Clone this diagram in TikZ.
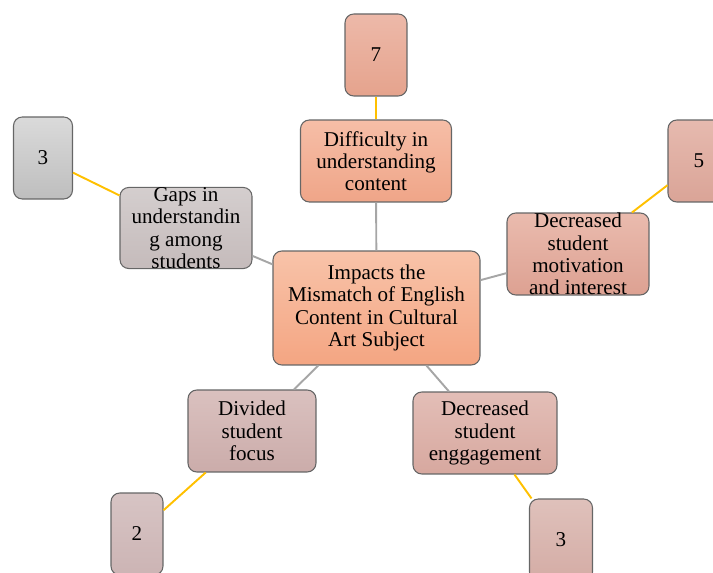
\documentclass[tikz,border=0pt]{standalone}
\usepackage{fontspec}
\setmainfont{Liberation Serif}

\definecolor{linkgrey}{HTML}{A6A6A6}
\definecolor{scoreyellow}{HTML}{FFC000}

\begin{document}
\begin{tikzpicture}[x=0.02cm, y=-0.02cm,
box/.style = {rectangle, rounded corners=5pt, draw=black!60, line width=0.6pt, align=center, inner sep=0pt, font=\fontsize{12}{12.7}\selectfont},
count/.style = {box, minimum height=1.64cm},
link/.style = {line width=1.1pt, linkgrey},
score/.style = {line width=1.1pt, scoreyellow},
]

\useasboundingbox (0,0) rectangle (713,573);
\clip (0,0) rectangle (713,573);

% Draw central topic
\node[box, minimum width=4.14cm, minimum height=2.28cm, top color={rgb,255:red,248;green,195;blue,169}, bottom color={rgb,255:red,244;green,165;blue,130}] (impact) at (376.5,308) {Impacts the\\ Mismatch of English\\ Content in Cultural\\ Art Subject};

% Draw impacts
\node[box, minimum width=3.02cm, minimum height=1.64cm, top color={rgb,255:red,246;green,190;blue,167}, bottom color={rgb,255:red,239;green,165;blue,136}] (difficulty) at (376,161) {Difficulty in\\ understanding\\ content};
\node[box, minimum width=2.64cm, minimum height=1.62cm, top color={rgb,255:red,212;green,206;blue,206}, bottom color={rgb,255:red,197;green,187;blue,187}] (gaps) at (186,228) {Gaps in\\ understandin\\ g among\\ students};
\node[box, minimum width=2.84cm, minimum height=1.64cm, top color={rgb,255:red,234;green,187;blue,174}, bottom color={rgb,255:red,221;green,161;blue,146}] (motivation) at (578,254) {Decreased\\ student\\ motivation\\ and interest};
\node[box, minimum width=2.56cm, minimum height=1.64cm, top color={rgb,255:red,218;green,193;blue,191}, bottom color={rgb,255:red,203;green,172;blue,170}] (focus) at (252,431) {Divided\\ student\\ focus};
\node[box, minimum width=2.88cm, minimum height=1.64cm, top color={rgb,255:red,227;green,190;blue,183}, bottom color={rgb,255:red,215;green,168;blue,159}] (engagement) at (485,433) {Decreased\\ student\\ enggagement};

% Draw counts
\node[count, minimum width=1.24cm, top color={rgb,255:red,237;green,185;blue,169}, bottom color={rgb,255:red,229;green,163;blue,141}] (n7) at (376,55) {7};
\node[count, minimum width=1.18cm, top color={rgb,255:red,218;green,218;blue,218}, bottom color={rgb,255:red,190;green,190;blue,190}] (n3a) at (43,158) {3};
\node[count, minimum width=1.24cm, top color={rgb,255:red,230;green,186;blue,175}, bottom color={rgb,255:red,218;green,164;blue,151}] (n5) at (699,161) {5};
\node[count, minimum width=1.04cm, top color={rgb,255:red,215;green,196;blue,196}, bottom color={rgb,255:red,204;green,180;blue,180}] (n2) at (137,534) {2};
\node[count, minimum width=1.26cm, top color={rgb,255:red,223;green,193;blue,187}, bottom color={rgb,255:red,212;green,172;blue,165}] (n3b) at (561,540) {3};

% Draw links
\draw[link] (impact) -- (difficulty);
\draw[link] (impact) -- (gaps);
\draw[link] (impact) -- (motivation);
\draw[link] (impact) -- (focus);
\draw[link] (impact) -- (engagement);

% Draw scores
\draw[score] (difficulty) -- (n7);
\draw[score] (gaps) -- (n3a);
\draw[score] (motivation) -- (n5);
\draw[score] (focus) -- (n2);
\draw[score] (engagement) -- (n3b);

\end{tikzpicture}
\end{document}
